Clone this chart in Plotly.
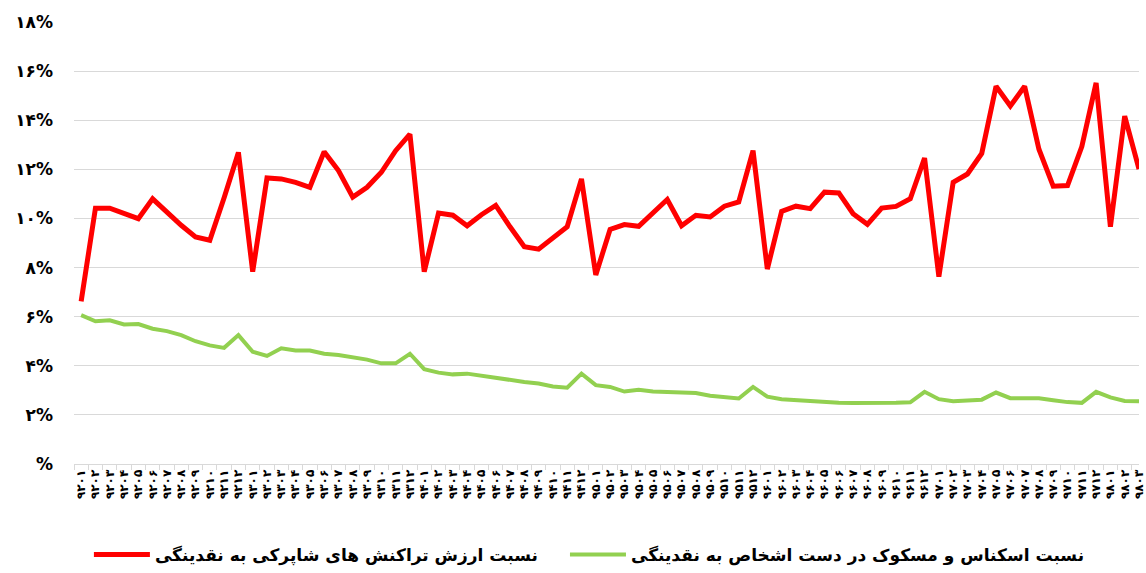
import plotly.graph_objects as go

# Category labels (year+month, Solar Hijri), ASCII form converted to Persian digits
codes = [
    "9201","9202","9203","9204","9205","9206","9207","9208","9209","9210","9211","9212",
    "9301","9302","9303","9304","9305","9306","9307","9308","9309","9310","9311","9312",
    "9401","9402","9403","9404","9405","9406","9407","9408","9409","9410","9411","9412",
    "9501","9502","9503","9504","9505","9506","9507","9508","9509","9510","9511","9512",
    "9601","9602","9603","9604","9605","9606","9607","9608","9609","9610","9611","9612",
    "9701","9702","9703","9704","9705","9706","9707","9708","9709","9710","9711","9712",
    "9801","9802","9803",
]
fa_digits = str.maketrans("0123456789", "۰۱۲۳۴۵۶۷۸۹")
categories = [c.translate(fa_digits) for c in codes]

# Ratio of Shaparak transaction value to liquidity (%)
shaparak = [
    6.62, 10.42, 10.42, 10.21, 9.99, 10.80, 10.26, 9.72, 9.25, 9.11, 10.84, 12.69,
    7.83, 11.65, 11.61, 11.47, 11.27, 12.72, 11.95, 10.87, 11.27, 11.88, 12.76, 13.43,
    7.83, 10.22, 10.13, 9.70, 10.15, 10.53, 9.66, 8.85, 8.75, 9.18, 9.66, 11.61,
    7.70, 9.55, 9.75, 9.68, 10.26, 10.77, 9.70, 10.13, 10.06, 10.50, 10.67, 12.76,
    7.94, 10.29, 10.50, 10.40, 11.07, 11.04, 10.19, 9.76, 10.42, 10.49, 10.80, 12.46,
    7.63, 11.47, 11.81, 12.65, 15.38, 14.58, 15.38, 12.82, 11.31, 11.34, 12.93, 15.52,
    9.66, 14.17, 12.01,
]

# Ratio of banknotes and coins held by public to liquidity (%)
cash = [
    6.06, 5.81, 5.85, 5.68, 5.70, 5.51, 5.41, 5.25, 5.00, 4.83, 4.73, 5.25,
    4.57, 4.40, 4.71, 4.62, 4.62, 4.49, 4.44, 4.36, 4.25, 4.10, 4.10, 4.49,
    3.86, 3.72, 3.65, 3.68, 3.59, 3.52, 3.43, 3.34, 3.28, 3.16, 3.11, 3.68,
    3.21, 3.14, 2.95, 3.02, 2.95, 2.94, 2.89, 2.89, 2.78, 2.71, 2.67, 3.14,
    2.74, 2.64, 2.60, 2.56, 2.51, 2.49, 2.48, 2.48, 2.45, 2.49, 2.51, 2.94,
    2.64, 2.56, 2.59, 2.62, 2.91, 2.68, 2.68, 2.68, 2.60, 2.52, 2.49, 2.94,
    2.71, 2.57, 2.56,
]

y_tickvals = [0, 2, 4, 6, 8, 10, 12, 14, 16, 18]
y_ticktext = ["%", "۲%", "۴%", "۶%", "۸%", "۱۰%", "۱۲%", "۱۴%", "۱۶%", "۱۸%"]

name_shaparak = "نسبت ارزش تراکنش های شاپرکی به نقدینگی"
name_cash = "نسبت اسکناس و مسکوک در دست اشخاص به نقدینگی"

FONT = "DejaVu Sans"

fig = go.Figure()
fig.add_trace(go.Scatter(
    x=categories, y=shaparak, mode="lines", name=name_shaparak,
    line=dict(color="#FF0000", width=5), cliponaxis=True, legend="legend",
))
fig.add_trace(go.Scatter(
    x=categories, y=cash, mode="lines", name=name_cash,
    line=dict(color="#92D050", width=4), cliponaxis=True, legend="legend2",
))

legend_font = dict(family=FONT, size=17, color="black", weight="bold")

fig.update_layout(
    width=1146, height=573,
    margin=dict(l=74, r=0, t=22, b=106),
    paper_bgcolor="white", plot_bgcolor="white",
    font=dict(family=FONT, color="black"),
    showlegend=True,
    legend=dict(
        orientation="h", x=0.014, xanchor="left", y=-0.207, yanchor="middle",
        font=legend_font, itemwidth=56,
    ),
    legend2=dict(
        orientation="h", x=0.461, xanchor="left", y=-0.207, yanchor="middle",
        font=legend_font, itemwidth=56,
    ),
    xaxis=dict(
        type="category", range=[-0.5, 74.0],
        tickmode="array", tickvals=categories, ticktext=categories,
        showgrid=False, showline=True, linecolor="#d9d9d9", linewidth=1,
        ticks="outside", tickson="boundaries", ticklen=5, tickcolor="#d9d9d9",
        tickangle=-90, tickfont=dict(family=FONT, size=12, color="black", weight="bold"),
        zeroline=False, fixedrange=True,
    ),
    yaxis=dict(
        range=[0, 18], tickvals=y_tickvals, ticktext=y_ticktext,
        showgrid=True, gridcolor="#d9d9d9", gridwidth=1,
        showline=False, zeroline=False, ticks="",
        ticklabelstandoff=20,
        tickfont=dict(family=FONT, size=17, color="black", weight="bold"),
        fixedrange=True,
    ),
)

fig.write_html(
    "out.html",
    config={"displayModeBar": False},
    post_script="document.body.style.margin='0';document.body.style.overflow='hidden';",
)
